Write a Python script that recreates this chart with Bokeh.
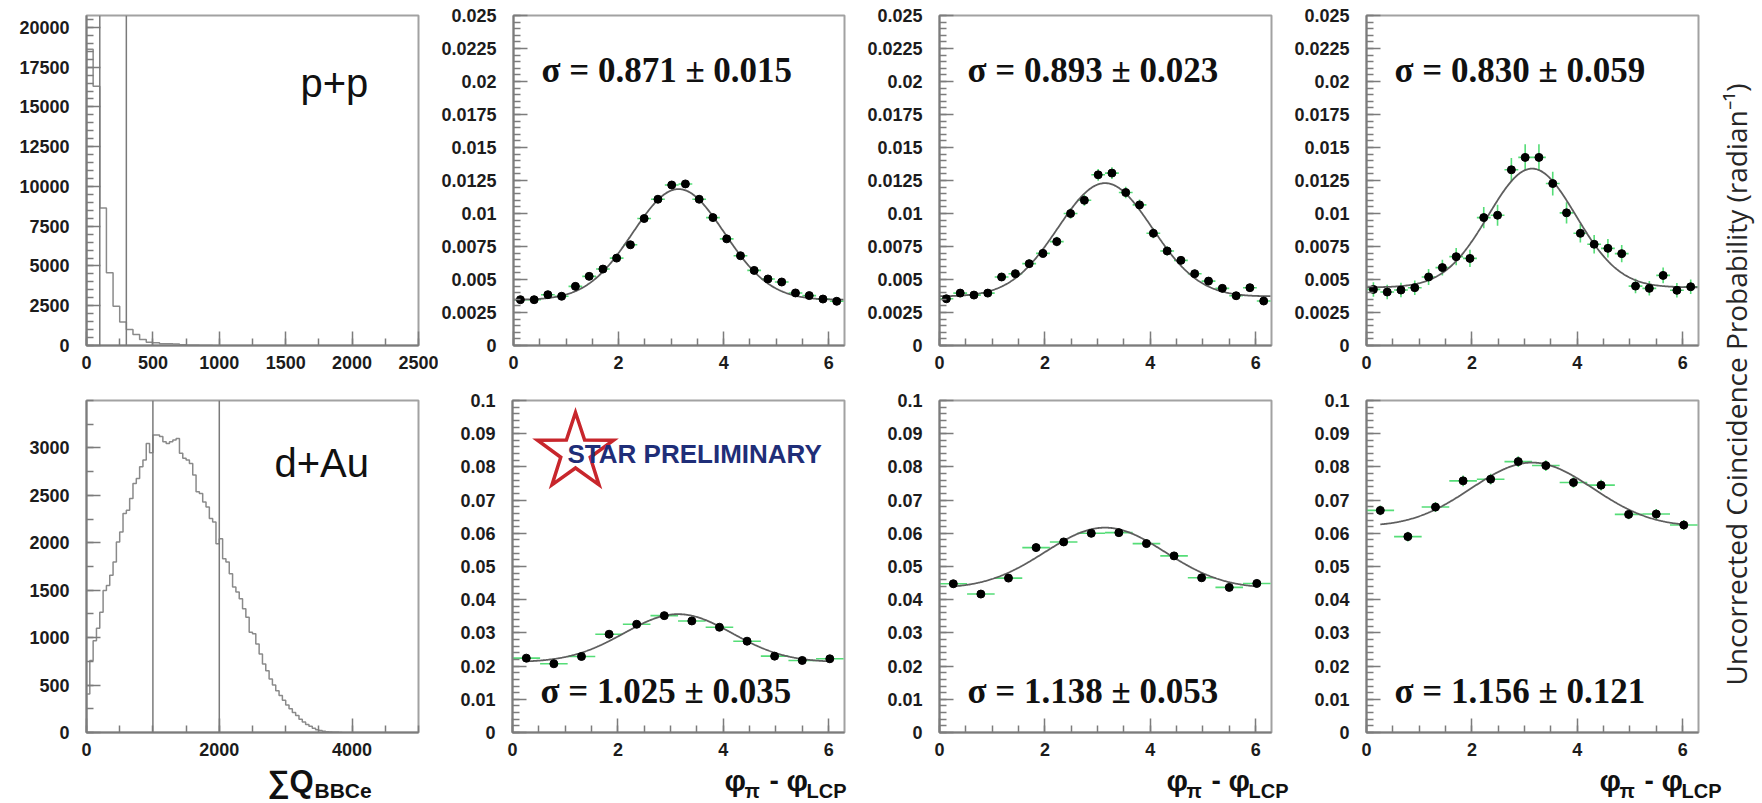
import numpy as np
from bokeh.plotting import figure
from bokeh.models import Range1d, FixedTicker, CustomJSTickFormatter, Label, Span
from bokeh.layouts import row, column
from bokeh.embed import file_html
from bokeh.resources import INLINE

# ---------------- data ----------------
# BBC east charge-sum distributions (bin width 50)
pp_bbc_counts = [18620, 16300, 8650, 4580, 2466, 1484, 1003, 690, 376, 209, 167,
                 104, 104, 100, 40, 20, 10, 5, 2]
pp_bbc_binwidth = 50
pp_bbc_cuts = [100, 300]

dau_bbc_counts = [406, 758, 967, 1100, 1268, 1498, 1551, 1657, 1797, 2008, 2114,
                  2308, 2343, 2466, 2625, 2678, 2801, 2872, 3048, 2949, 3136,
                  3136, 3120, 3066, 3048, 3066, 3084, 3100, 2943, 2890, 2872,
                  2837, 2714, 2537, 2520, 2431, 2378, 2255, 2220, 1990, 2043,
                  1832, 1797, 1674, 1533, 1480, 1410, 1304, 1216, 1057, 1040,
                  934, 828, 722, 652, 564, 500, 440, 390, 340, 290, 250, 210,
                  180, 140, 110, 85, 65, 45, 30, 20, 12, 8, 5, 3, 2, 1]
dau_bbc_binwidth = 50
dau_bbc_cuts = [1000, 2000]

# phi_pi - phi_LCP bin centres
phi_24 = [0.131, 0.393, 0.654, 0.916, 1.178, 1.440, 1.702, 1.963, 2.225, 2.487,
          2.749, 3.011, 3.272, 3.534, 3.796, 4.058, 4.320, 4.581, 4.843, 5.105,
          5.367, 5.629, 5.890, 6.152]
phi_12 = [0.262, 0.785, 1.309, 1.833, 2.356, 2.880, 3.403, 3.927, 4.451, 4.974,
          5.498, 6.021]

# p+p coincidence probabilities
pp_c1_y = [0.00347, 0.00347, 0.00385, 0.00373, 0.00448, 0.00524, 0.00579, 0.00662,
           0.00763, 0.00962, 0.01108, 0.01216, 0.01224, 0.01108, 0.00969, 0.00808,
           0.00680, 0.00569, 0.00504, 0.00481, 0.00398, 0.00378, 0.00352, 0.00335]
pp_c1_err = [0.00018, 0.00018, 0.00019, 0.00019, 0.0002, 0.00021, 0.00022, 0.00023,
             0.00025, 0.00027, 0.00029, 0.0003, 0.0003, 0.00029, 0.00027, 0.00025,
             0.00023, 0.00022, 0.00021, 0.0002, 0.00019, 0.00019, 0.00018, 0.00018]
pp_c2_y = [0.00354, 0.00397, 0.00382, 0.00397, 0.00519, 0.00544, 0.00620, 0.00698,
           0.00787, 0.01000, 0.01100, 0.01293, 0.01306, 0.01159, 0.01065, 0.00850,
           0.00716, 0.00645, 0.00544, 0.00488, 0.00433, 0.00377, 0.00438, 0.00337]
pp_c2_err = [0.00025, 0.00026, 0.00026, 0.00026, 0.0003, 0.0003, 0.00032, 0.00034,
             0.00036, 0.0004, 0.00042, 0.00045, 0.00045, 0.00043, 0.00041, 0.00037,
             0.00034, 0.00032, 0.0003, 0.00028, 0.00027, 0.00025, 0.00027, 0.00024]
pp_c3_y = [0.00425, 0.00405, 0.00420, 0.00438, 0.00519, 0.00590, 0.00673, 0.00660,
           0.00969, 0.00987, 0.01331, 0.01425, 0.01425, 0.01227, 0.01005, 0.00850,
           0.00767, 0.00736, 0.00696, 0.00450, 0.00433, 0.00531, 0.00418, 0.00445]
pp_c3_err = [0.00055, 0.00055, 0.00055, 0.00055, 0.0006, 0.0006, 0.00065, 0.00065,
             0.0008, 0.0008, 0.0009, 0.001, 0.001, 0.0009, 0.0008, 0.0007,
             0.0007, 0.0007, 0.00065, 0.00055, 0.00055, 0.0006, 0.00055, 0.00055]

# d+Au coincidence probabilities
dau_c1_y = [0.0224, 0.0207, 0.0229, 0.0296, 0.0326, 0.0352, 0.0336, 0.0317,
            0.0275, 0.0230, 0.0217, 0.0222]
dau_c1_err = [0.0007, 0.0007, 0.0007, 0.0008, 0.0008, 0.0009, 0.0008, 0.0008,
              0.0008, 0.0007, 0.0007, 0.0007]
dau_c2_y = [0.0448, 0.0417, 0.0465, 0.0557, 0.0574, 0.0600, 0.0602, 0.0569,
            0.0532, 0.0466, 0.0437, 0.0449]
dau_c2_err = [0.0011, 0.0011, 0.0011, 0.0012, 0.0012, 0.0012, 0.0012, 0.0012,
              0.0012, 0.0011, 0.0011, 0.0011]
dau_c3_y = [0.0669, 0.0590, 0.0679, 0.0758, 0.0763, 0.0816, 0.0804, 0.0753,
            0.0745, 0.0657, 0.0658, 0.0625]
dau_c3_err = [0.0015, 0.0015, 0.0015, 0.0016, 0.0016, 0.0016, 0.0016, 0.0016,
              0.0016, 0.0015, 0.0015, 0.0015]

# Gaussian + constant fit parameters
pp_sigma = [0.871, 0.893, 0.830]
pp_sigma_err = [0.015, 0.023, 0.059]
pp_base = [0.00345, 0.0037, 0.0044]
pp_amp = [0.0084, 0.0086, 0.0090]
dau_sigma = [1.025, 1.138, 1.156]
dau_sigma_err = [0.035, 0.053, 0.121]
dau_base = [0.0211, 0.04305, 0.06155]
dau_amp = [0.01454, 0.01865, 0.01975]

# tick values
pp_bbc_xticks = [0, 500, 1000, 1500, 2000, 2500]
pp_bbc_yticks = [0, 2500, 5000, 7500, 10000, 12500, 15000, 17500, 20000]
dau_bbc_xticks = [0, 2000, 4000]
dau_bbc_yticks = [0, 500, 1000, 1500, 2000, 2500, 3000]
phi_xticks = [0, 2, 4, 6]
pp_phi_yticks = [0, 0.0025, 0.005, 0.0075, 0.01, 0.0125, 0.015, 0.0175, 0.02, 0.0225, 0.025]
dau_phi_yticks = [0, 0.01, 0.02, 0.03, 0.04, 0.05, 0.06, 0.07, 0.08, 0.09, 0.1]

# ---------------- style / layout constants ----------------
GREEN = "#55dd77"
FRAME = "#a2a2a2"
AXISC = "#7c7c7c"
TICKFONT = "Liberation Sans"
FW, FH_TOP, FH_BOT = 332, 330, 332
TOP_H, BOT_H = 385, 379
col_widths = [438, 415, 427, 426]
col_left = [86, 74, 86, 86]
col_right = [20, 9, 9, 8]
frame_x0 = [86, 512, 939, 1366]   # absolute frame left edges
SIDE_W = 56
STRIP_H = 803 - TOP_H - BOT_H
STRIP_Y0 = TOP_H + BOT_H
BASE_SHIFT = 0.34   # label baseline correction (fraction of font size)

fmt = CustomJSTickFormatter(code="return tick.toString();")


def minor(start, stop, step):
    return [round(v, 6) for v in np.arange(start, stop + step / 2, step)]


def make_fig(ci, rowname, xr, yr, xt, xm, yt, ym):
    top = 15
    h = TOP_H if rowname == "top" else BOT_H
    fh = FH_TOP if rowname == "top" else FH_BOT
    bottom = h - top - fh
    p = figure(width=col_widths[ci], height=h, x_range=Range1d(*xr), y_range=Range1d(*yr),
               output_backend="svg", toolbar_location=None, title_location=None,
               min_border_left=col_left[ci], min_border_right=col_right[ci],
               min_border_top=top, min_border_bottom=bottom)
    p.xgrid.visible = False
    p.ygrid.visible = False
    p.outline_line_color = FRAME
    p.outline_line_width = 2
    p.background_fill_color = "white"
    p.border_fill_color = "white"
    p.xaxis.ticker = FixedTicker(ticks=xt, minor_ticks=xm)
    p.yaxis.ticker = FixedTicker(ticks=yt, minor_ticks=ym)
    for ax in (p.xaxis[0], p.yaxis[0]):
        ax.formatter = fmt
        ax.axis_line_color = AXISC
        ax.axis_line_width = 2
        ax.major_tick_line_color = AXISC
        ax.major_tick_line_width = 1.5
        ax.minor_tick_line_color = AXISC
        ax.minor_tick_line_width = 1.5
        ax.major_tick_in = 14
        ax.major_tick_out = 0
        ax.minor_tick_in = 7
        ax.minor_tick_out = 0
        ax.major_label_text_font = TICKFONT
        ax.major_label_text_font_style = "bold"
        ax.major_label_text_font_size = "18px"
        ax.major_label_text_color = "#1c1c1c"
    p.xaxis.major_label_standoff = 10
    p.yaxis.major_label_standoff = 17
    p._frame_info = (frame_x0[ci], top if rowname == "top" else TOP_H + top, fh, xr, yr)
    return p


def to_data(p, px, py):
    fx, fy, fh, xr, yr = p._frame_info
    x = xr[0] + (px - fx) / FW * (xr[1] - xr[0])
    y = yr[0] + (fy + fh - py) / fh * (yr[1] - yr[0])
    return x, y


def add_text(p, px, py, text, font, size, style="normal", color="#111111"):
    # px, py: screen position of the text's left end / baseline
    x, y = to_data(p, px, py - BASE_SHIFT * size)
    p.add_layout(Label(x=x, y=y, text=text, text_font=font, text_font_style=style,
                       text_font_size=f"{size}px", text_color=color,
                       text_align="left", text_baseline="alphabetic"))


def step_outline(counts, width):
    xs, ys = [0.0], [0.0]
    for i, c in enumerate(counts):
        xs += [i * width, (i + 1) * width]
        ys += [c, c]
    xs.append(len(counts) * width)
    ys.append(0.0)
    return xs, ys


def draw_hist(p, counts, width, cuts):
    xs, ys = step_outline(counts, width)
    p.line(xs, ys, line_color="#8a8a8a", line_width=1.5)
    for c in cuts:
        p.add_layout(Span(location=c, dimension="height", line_color="#7a7a7a", line_width=1.5))


def draw_phi(p, xs, ys, errs, half_bin, base, amp, sig, xfit):
    xs = np.array(xs)
    ys = np.array(ys)
    errs = np.array(errs)
    p.segment(x0=xs - half_bin, y0=ys, x1=xs + half_bin, y1=ys, line_color=GREEN, line_width=1.6)
    p.segment(x0=xs, y0=ys - errs, x1=xs, y1=ys + errs, line_color=GREEN, line_width=1.6)
    xf = np.linspace(xfit[0], xfit[1], 400)
    yf = base + amp * (np.exp(-(xf - np.pi) ** 2 / (2 * sig ** 2))
                       + np.exp(-(xf + np.pi) ** 2 / (2 * sig ** 2))
                       + np.exp(-(xf - 3 * np.pi) ** 2 / (2 * sig ** 2)))
    p.line(xf, yf, line_color="#5e5e5e", line_width=1.8)
    p.scatter(xs, ys, size=8, marker="circle", fill_color="black", line_color="black")


# ---------------- figures ----------------
PHI_X = (0, 6.3)
f1 = make_fig(0, "top", (0, 2500), (0, 20750), pp_bbc_xticks, minor(0, 2500, 250),
              pp_bbc_yticks, minor(0, 20500, 500))
draw_hist(f1, pp_bbc_counts, pp_bbc_binwidth, pp_bbc_cuts)
add_text(f1, 300, 96, "p+p", "Liberation Sans", 40)

f5 = make_fig(0, "bot", (0, 5000), (0, 3500), dau_bbc_xticks, minor(0, 5000, 500),
              dau_bbc_yticks, minor(0, 3500, 250))
draw_hist(f5, dau_bbc_counts, dau_bbc_binwidth, dau_bbc_cuts)
add_text(f5, 274, 476, "d+Au", "Liberation Sans", 40)

pp_sets = [(pp_c1_y, pp_c1_err), (pp_c2_y, pp_c2_err), (pp_c3_y, pp_c3_err)]
dau_sets = [(dau_c1_y, dau_c1_err), (dau_c2_y, dau_c2_err), (dau_c3_y, dau_c3_err)]
sigma_px = [540, 967, 1394]

top_figs = [f1]
bot_figs = [f5]
for k in range(3):
    ci = k + 1
    pt = make_fig(ci, "top", PHI_X, (0, 0.025), phi_xticks, minor(0, 6, 0.5),
                  pp_phi_yticks, minor(0, 0.025, 0.0005))
    draw_phi(pt, phi_24, pp_sets[k][0], pp_sets[k][1], np.pi / 24,
             pp_base[k], pp_amp[k], pp_sigma[k], (0, 6.28))
    add_text(pt, sigma_px[k], 82, f"σ = {pp_sigma[k]:.3f} ± {pp_sigma_err[k]:.3f}",
             "Liberation Serif", 35, "bold")
    top_figs.append(pt)

    pb = make_fig(ci, "bot", PHI_X, (0, 0.1), phi_xticks, minor(0, 6, 0.5),
                  dau_phi_yticks, minor(0, 0.1, 0.002))
    draw_phi(pb, phi_12, dau_sets[k][0], dau_sets[k][1], np.pi / 12,
             dau_base[k], dau_amp[k], dau_sigma[k], (phi_12[0], phi_12[-1]))
    add_text(pb, sigma_px[k], 703, f"σ = {dau_sigma[k]:.3f} ± {dau_sigma_err[k]:.3f}",
             "Liberation Serif", 35, "bold")
    if k == 0:
        # STAR logo: five-pointed star outline (screen geometry) + text
        cx, cy, R_out, R_in = 575, 452, 40, 15.5
        ang = np.pi / 2 + np.arange(10) * np.pi / 5
        rad = np.where(np.arange(10) % 2 == 0, R_out, R_in)
        spx = cx + rad * np.cos(ang)
        spy = cy - rad * np.sin(ang)
        sxy = [to_data(pb, a, b) for a, b in zip(spx, spy)]
        pb.patch([v[0] for v in sxy], [v[1] for v in sxy], fill_color="white", fill_alpha=0.0,
                 line_color="#c8262c", line_width=3.5, line_join="miter")
        add_text(pb, 567, 462, "STAR PRELIMINARY", "Liberation Sans", 26, "bold", "#1f2e78")
    bot_figs.append(pb)

# side figure with the rotated y label
side = figure(width=SIDE_W, height=STRIP_Y0, x_range=Range1d(0, SIDE_W),
              y_range=Range1d(0, STRIP_Y0), x_axis_type=None, y_axis_type=None,
              output_backend="svg", toolbar_location=None, title_location=None, min_border=0)
side.outline_line_color = None
side.xgrid.visible = False
side.ygrid.visible = False
side.add_layout(Label(x=29, y=STRIP_Y0 - 384, angle=np.pi / 2,
                      text="Uncorrected Coincidence Probability (radian⁻¹)",
                      text_font="Open Sans", text_font_size="28px", text_color="#262626",
                      text_align="center", text_baseline="middle"))

# strip with the x-axis titles
strip = figure(width=1762, height=STRIP_H, x_range=Range1d(0, 1762), y_range=Range1d(0, STRIP_H),
               x_axis_type=None, y_axis_type=None, output_backend="svg",
               toolbar_location=None, title_location=None, min_border=0)
strip.outline_line_color = None
strip.xgrid.visible = False
strip.ygrid.visible = False


def strip_label(px, py, text, size):
    y = 803 - (py - BASE_SHIFT * size)
    strip.add_layout(Label(x=px, y=y, text=text, text_font="Liberation Sans",
                           text_font_style="bold", text_font_size=f"{size}px",
                           text_color="#111111", text_align="left",
                           text_baseline="alphabetic"))


strip_label(267, 792, "∑Q", 31)
strip_label(314, 797, "BBCe", 21)
for x0 in [724, 1166, 1599]:
    strip_label(x0, 790, "φ", 30)
    strip_label(x0 + 20, 797, "π", 20)
    strip_label(x0 + 45, 790, "-", 28)
    strip_label(x0 + 62, 790, "φ", 30)
    strip_label(x0 + 82, 797, "LCP", 20)

grid = column(row(*top_figs), row(*bot_figs))
layout = column(row(grid, side), strip)

open("out.html", "w").write(file_html(layout, INLINE))
